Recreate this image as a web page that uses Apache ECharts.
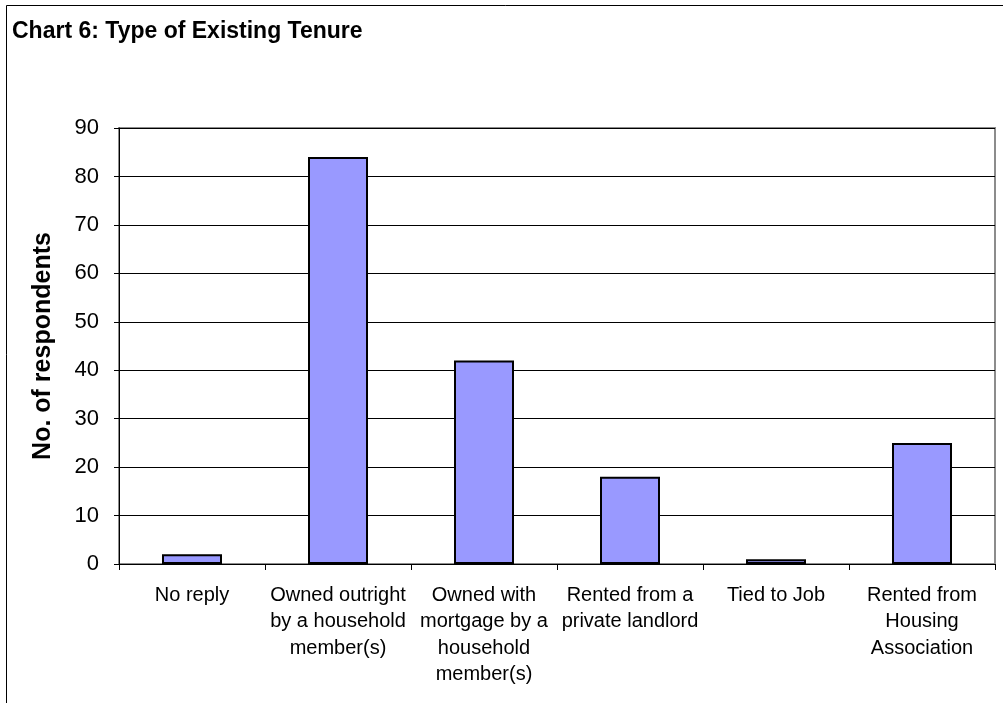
<!DOCTYPE html>
<html><head><meta charset="utf-8">
<script src="https://cdn.jsdelivr.net/npm/echarts@6/dist/echarts.min.js"></script>
<style>html,body{margin:0;padding:0;background:#fff}#c{width:1003px;height:703px}</style>
</head><body><div id="c"></div>
<script>
const categories = ["No reply", "Owned outright\nby a household\nmember(s)", "Owned with\nmortgage by a\nhousehold\nmember(s)", "Rented from a\nprivate landlord", "Tied to Job", "Rented from\nHousing\nAssociation"];
const respondents = [2, 84, 42, 18, 1, 25];
const yTicks = {min: 0, max: 90, interval: 10};
const titleText = "Chart 6: Type of Existing Tenure";
const yAxisName = "No. of respondents";

const chart = echarts.init(document.getElementById('c'), null, {renderer: 'canvas'});
const FONT = '"Liberation Sans", Arial, sans-serif';
chart.setOption({
  animation: false,
  backgroundColor: '#fff',
  title: {
    text: titleText, left: 7, top: 15,
    textStyle: {fontFamily: FONT, fontWeight: 'bold', fontSize: 23, color: '#000'}
  },
  graphic: [
    {type: 'rect', shape: {x: 6.5, y: 5.5, width: 1010, height: 710}, style: {fill: 'none', stroke: '#000', lineWidth: 1}, silent: true, z: -1},
    {type: 'rect', shape: {x: 119, y: 128, width: 876, height: 436}, style: {fill: 'none', stroke: '#8c8c8c', lineWidth: 2}, silent: true, z: -1}
  ],
  grid: {left: 119, right: 8, top: 128, bottom: 139, containLabel: false},
  xAxis: {
    type: 'category', data: categories,
    axisLine: {show: true, lineStyle: {color: '#000', width: 1}},
    axisTick: {show: true, length: 6, alignWithLabel: false, lineStyle: {color: '#000'}},
    axisLabel: {interval: 0, margin: 18, fontFamily: FONT, fontSize: 20, lineHeight: 26.5, color: '#000', align: 'center'},
    splitLine: {show: false}
  },
  yAxis: {
    type: 'value', min: yTicks.min, max: yTicks.max, interval: yTicks.interval,
    name: yAxisName, nameLocation: 'middle', nameGap: 63, nameRotate: 90,
    nameTextStyle: {fontFamily: FONT, fontWeight: 'bold', fontSize: 25, color: '#000'},
    axisLine: {show: true, lineStyle: {color: '#000', width: 1}},
    axisTick: {show: true, length: 5, lineStyle: {color: '#000'}},
    axisLabel: {margin: 20, fontFamily: FONT, fontSize: 22, color: '#000'},
    splitLine: {show: true, lineStyle: {color: '#000', width: 1}}
  },
  series: [{
    type: 'bar', data: respondents, barWidth: 60,
    itemStyle: {color: '#9999FF', borderColor: '#000', borderWidth: 2}
  }]
});
</script></body></html>
